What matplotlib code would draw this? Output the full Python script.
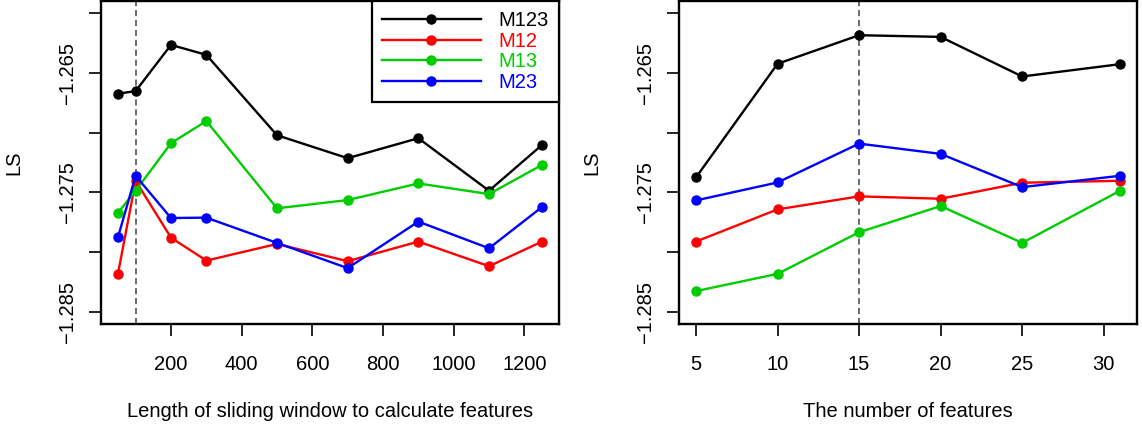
import matplotlib
matplotlib.use("Agg")
import matplotlib.pyplot as plt

# data
window = [50, 100, 200, 300, 500, 700, 900, 1100, 1250]
win_m123 = [-1.26675, -1.26653, -1.26267, -1.26350, -1.27022, -1.27214, -1.27047, -1.27486, -1.27103]
win_m12 = [-1.28181, -1.27403, -1.27878, -1.28070, -1.27931, -1.28075, -1.27911, -1.28117, -1.27911]
win_m13 = [-1.27670, -1.27486, -1.27089, -1.26903, -1.27633, -1.27564, -1.27425, -1.27514, -1.27270]
win_m23 = [-1.27875, -1.27361, -1.27714, -1.27711, -1.27922, -1.28133, -1.27744, -1.27967, -1.27622]

nfeat = [5, 10, 15, 20, 25, 31]
feat_m123 = [-1.27375, -1.26425, -1.26186, -1.26200, -1.26531, -1.26428]
feat_m12 = [-1.27911, -1.27642, -1.27533, -1.27553, -1.27419, -1.27403]
feat_m13 = [-1.28325, -1.28181, -1.27833, -1.27614, -1.27922, -1.27486]
feat_m23 = [-1.27567, -1.27417, -1.27092, -1.27178, -1.27456, -1.27361]

names = ["M123", "M12", "M13", "M23"]
colors = ["black", "#FF0000", "#00CD00", "#0000FF"]

yticks = [-1.26, -1.265, -1.27, -1.275, -1.28, -1.285]
ytick_labels = ["", "\u22121.265", "", "\u22121.275", "", "\u22121.285"]

plt.rcParams['font.family'] = ['Liberation Sans', 'DejaVu Sans']
fs = 14.5

fig = plt.figure(figsize=(11.42, 4.28), dpi=100)
W, H = 1142.0, 428.0
ax1 = fig.add_axes([101 / W, 1 - 324 / H, (559 - 101) / W, 323 / H])
ax2 = fig.add_axes([679 / W, 1 - 324 / H, (1137 - 679) / W, 323 / H])


def style_axes(ax, xticks, xlabel, vline):
    ax.axvline(vline, color="#444444", lw=1.1, ls=(0, (4, 2.5)), zorder=1)
    ax.set_ylim(-1.286, -1.259)
    ax.set_yticks(yticks)
    ax.set_yticklabels(ytick_labels, rotation=90, va="center", fontsize=fs)
    ax.set_xticks(xticks)
    ax.set_xticklabels([str(t) for t in xticks], fontsize=fs)
    ax.tick_params(direction="out", length=8.5, width=1.2, pad=9)
    ax.tick_params(axis="x", pad=14)
    for s in ax.spines.values():
        s.set_linewidth(1.7)
    ax.set_xlabel(xlabel, fontsize=fs)
    ax.xaxis.set_label_coords(0.5, -0.24)
    ax.set_ylabel("LS", fontsize=fs)
    ax.yaxis.set_label_coords(-0.17, 0.5)


series1 = [win_m123, win_m12, win_m13, win_m23]
lines = []
for vals, name, c in zip(series1, names, colors):
    ln, = ax1.plot(window, vals, color=c, lw=1.7, marker="o", ms=6.5, label=name, zorder=3)
    lines.append(ln)
ax1.set_xlim(2, 1298)
style_axes(ax1, [200, 400, 600, 800, 1000, 1200],
           "Length of sliding window to calculate features", 100)

series2 = [feat_m123, feat_m12, feat_m13, feat_m23]
for vals, name, c in zip(series2, names, colors):
    ax2.plot(nfeat, vals, color=c, lw=1.7, marker="o", ms=6.5, label=name, zorder=3)
ax2.set_xlim(3.96, 32.04)
style_axes(ax2, [5, 10, 15, 20, 25, 30], "The number of features", 15)

leg = ax1.legend(handles=lines, loc="upper right", fontsize=fs, frameon=True,
                 fancybox=False, borderaxespad=0, handlelength=4.9,
                 handletextpad=0.9, labelspacing=0.08, borderpad=0.5,
                 numpoints=1, markerfirst=True)
leg.get_frame().set_edgecolor("black")
leg.get_frame().set_linewidth(1.6)
leg.get_frame().set_alpha(1)
for t, c in zip(leg.get_texts(), colors):
    t.set_color(c)

fig.savefig("out.png", dpi=100)
